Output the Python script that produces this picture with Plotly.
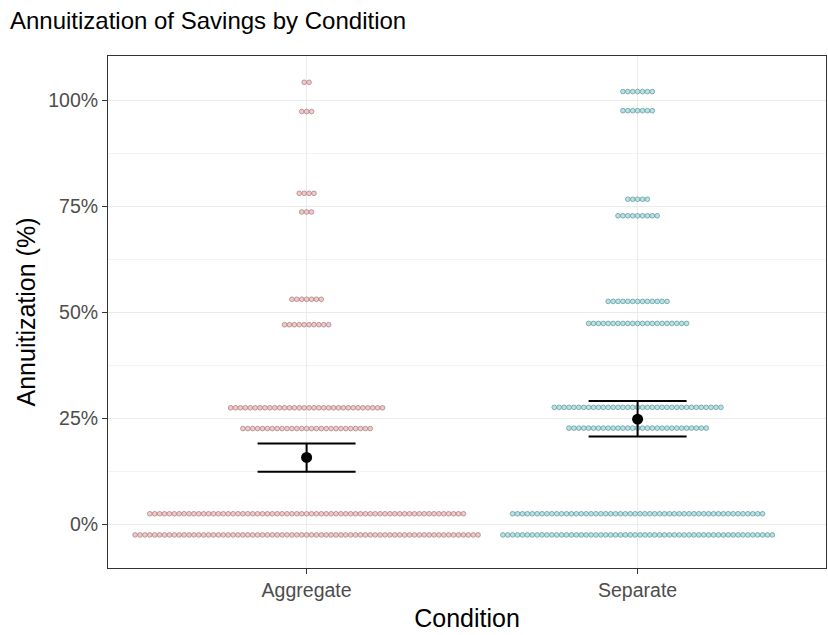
import plotly.graph_objects as go

# ---------------- data ----------------
conditions = ["Aggregate", "Separate"]

# dot rows: bin value (%) and number of stacked dots in that row
agg_bins = [104.3, 97.4, 78.1, 73.7, 53.1, 47.1, 27.5, 22.6, 2.5, -2.5]
agg_counts = [2, 3, 4, 3, 7, 10, 32, 27, 65, 71]

sep_bins = [102.1, 97.6, 76.7, 72.8, 52.6, 47.4, 27.6, 22.7, 2.5, -2.5]
sep_counts = [7, 7, 5, 9, 13, 21, 35, 29, 52, 56]

# mean and interval (%)
means = [15.8, 24.8]
ci_low = [12.4, 20.7]
ci_high = [19.1, 29.1]

y_ticks = [0, 25, 50, 75, 100]
y_ticktext = ["0%", "25%", "50%", "75%", "100%"]

# ---------------- layout constants ----------------
W, H = 828, 635
ML, MR, MT, MB = 108, 2, 56, 67
x_range = [-0.6, -0.6 + (W - ML - MR) / 331.0]
y_range = [-10.3, 110.5]
plot_w = W - ML - MR
dot_pitch_px = 4.9
pitch_units = dot_pitch_px * (x_range[1] - x_range[0]) / plot_w

fills = ["rgba(242,185,185,0.8)", "rgba(160,222,226,0.8)"]
lines = ["rgba(150,115,115,0.8)", "rgba(95,140,145,0.85)"]


def row_points(center, bins, counts):
    xs, ys = [], []
    for b, n in zip(bins, counts):
        for i in range(n):
            xs.append(center + (i - (n - 1) / 2.0) * pitch_units)
            ys.append(b)
    return xs, ys


fig = go.Figure()
for k, (bins, counts) in enumerate([(agg_bins, agg_counts), (sep_bins, sep_counts)]):
    xs, ys = row_points(k, bins, counts)
    fig.add_trace(go.Scatter(
        x=xs, y=ys, mode="markers", showlegend=False, hoverinfo="skip",
        marker=dict(size=4.7, color=fills[k], line=dict(color=lines[k], width=0.8)),
    ))

fig.add_trace(go.Scatter(
    x=list(range(len(conditions))), y=means, mode="markers", showlegend=False,
    marker=dict(size=11, color="black"),
    error_y=dict(type="data", symmetric=False,
                 array=[h - m for h, m in zip(ci_high, means)],
                 arrayminus=[m - l for l, m in zip(ci_low, means)],
                 color="black", thickness=2, width=49),
))

fig.update_layout(
    width=W, height=H,
    margin=dict(l=ML, r=MR, t=MT, b=MB),
    paper_bgcolor="white", plot_bgcolor="white",
    font=dict(family="Liberation Sans, Arial, sans-serif", color="#4D4D4D"),
    title=dict(text="Annuitization of Savings by Condition", x=0.012, xref="container",
               xanchor="left", y=0.968, yanchor="middle",
               font=dict(size=24, color="black")),
)
fig.update_xaxes(
    range=x_range, tickvals=list(range(len(conditions))), ticktext=conditions,
    showgrid=True, gridcolor="#EBEBEB", gridwidth=1.4, zeroline=False,
    showline=True, linecolor="#333333", linewidth=1, mirror=True,
    ticks="outside", ticklen=5, tickcolor="#333333", tickwidth=1.2,
    tickfont=dict(size=19.5, color="#4D4D4D"), automargin=False,
    title=dict(text="Condition", font=dict(size=25, color="black"), standoff=9),
)
fig.update_yaxes(
    range=y_range, tickvals=y_ticks, ticktext=y_ticktext,
    showgrid=True, gridcolor="#EBEBEB", gridwidth=1.4, zeroline=False,
    minor=dict(tickvals=[-12.5, 12.5, 37.5, 62.5, 87.5, 112.5], showgrid=True,
               gridcolor="#F3F3F3", gridwidth=0.8, ticks=""),
    showline=True, linecolor="#333333", linewidth=1, mirror=True,
    ticks="outside", ticklen=5, tickcolor="#333333", tickwidth=1.2,
    tickfont=dict(size=19.5, color="#4D4D4D"), automargin=False,
    title=dict(text="Annuitization (%)", font=dict(size=25, color="black"), standoff=5),
)

fig.write_html("out.html")
